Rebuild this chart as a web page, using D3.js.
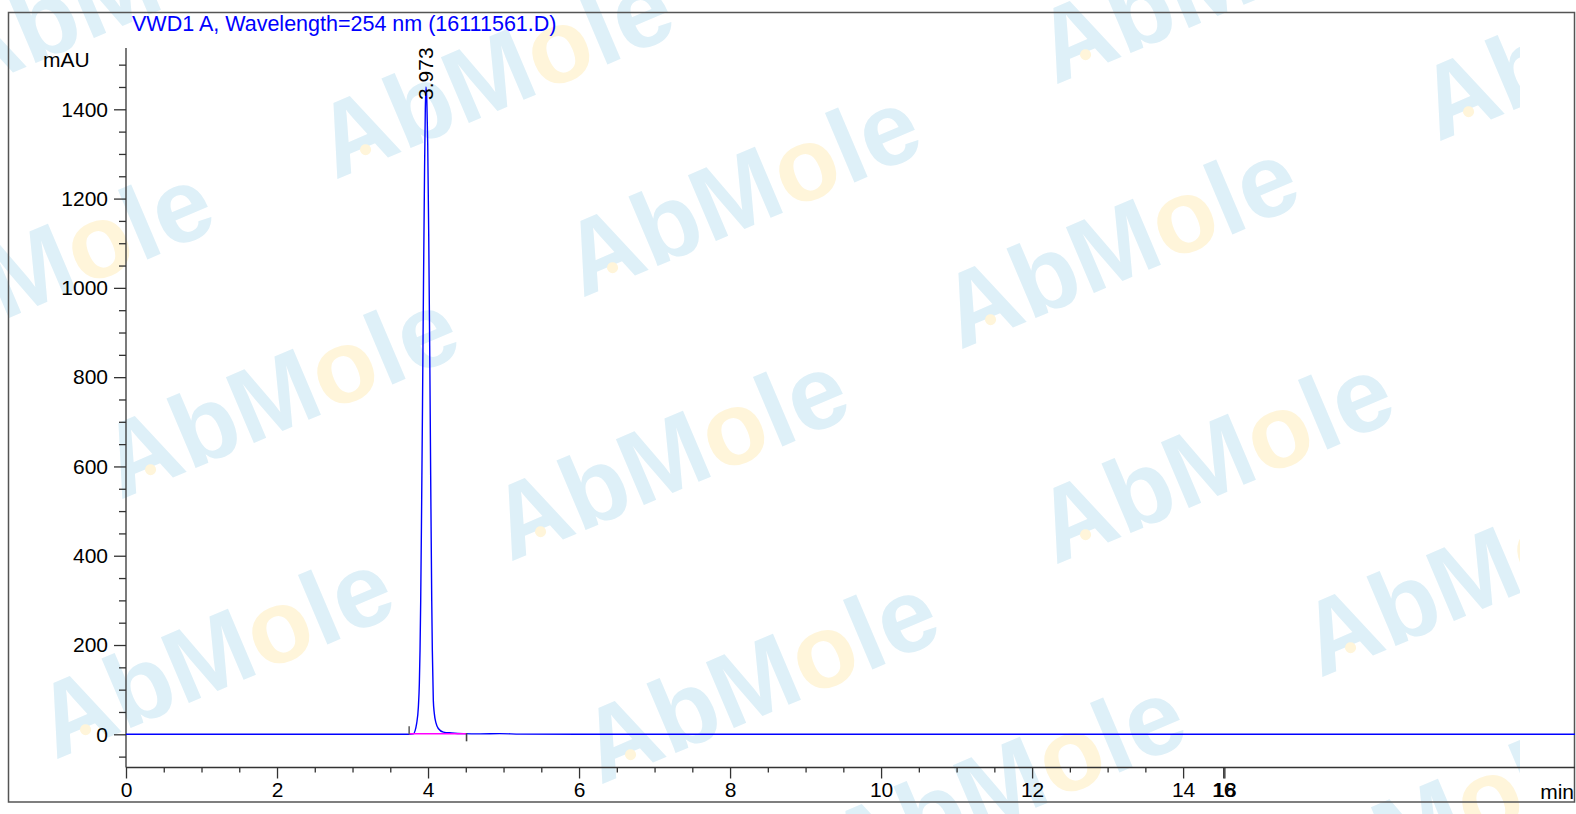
<!DOCTYPE html>
<html>
<head>
<meta charset="utf-8">
<script src="https://cdn.jsdelivr.net/npm/d3@7"></script>
<style>
  html, body { margin: 0; padding: 0; background: #fff; }
  svg { display: block; }
  text { font-family: "Liberation Sans", Arial, sans-serif; }
</style>
</head>
<body>
<svg id="chart" width="1576" height="814"></svg>
<script>
// ---------------- data ----------------
const chartTitle = "VWD1 A, Wavelength=254 nm (16111561.D)";
const yUnit = "mAU";
const xUnit = "min";

// chromatogram trace (time in min, signal in mAU)
const traceTime = [0, 1.0, 2.0, 3.0, 3.75, 3.805, 3.850, 3.872, 3.885, 3.894, 3.903, 3.915, 3.927, 3.940, 3.954, 3.964, 3.973,
  3.984, 3.996, 4.009, 4.022, 4.035, 4.049, 4.057, 4.070, 4.083, 4.106, 4.136, 4.203, 4.314, 4.467, 4.69, 4.95, 5.22, 6.0, 8.0, 10.0, 12.0, 14.0, 16.0, 18.0, 19.2];
const traceMAU = [0, 0, 0, 0, 0, 1, 25, 61, 114, 188, 300, 510, 740, 1010, 1265, 1400, 1450,
  1420, 1320, 1120, 870, 580, 300, 188, 76, 47, 25, 13, 5, 3, 1.5, 1, 1.5, 0.5, 0, 0, 0, 0, 0, 0, 0, 0];

// integrated peak
const peakRT = 3.973;
const peakHeight = 1450;
const peakLabel = "3.973";
const peakStart = 3.75;
const peakEnd = 4.51;

// axes
const xMajorTicks = [0, 2, 4, 6, 8, 10, 12, 14, 16, 18];
const xMinorTicks = [0.5, 1, 1.5, 2.5, 3, 3.5, 4.5, 5, 5.5, 6.5, 7, 7.5, 8.5, 9, 9.5, 10.5, 11, 11.5, 12.5, 13, 13.5];
const yMajorTicks = [0, 200, 400, 600, 800, 1000, 1200, 1400];
const yMinorTicks = [-50, 50, 100, 150, 250, 300, 350, 450, 500, 550, 650, 700, 750, 850, 900, 950, 1050, 1100, 1150, 1250, 1300, 1350, 1450, 1500];

// ---------------- drawing ----------------
const svg = d3.select("#chart");
const W = 1576, H = 814;
const FS = 21;

// watermark (background decoration)
const wmOrigins = [[-40, 95], [335, 180], [582, 298], [960, 350], [1055, 85], [1438, 142], [-125, 375], [120, 500], [510, 562],
  [1055, 565], [55, 760], [600, 785], [1320, 678], [847, 888], [1265, 930], [130, 1015]];
svg.append("defs").append("clipPath").attr("id", "wmclip")
  .append("rect").attr("x", 0).attr("y", 0).attr("width", 1520).attr("height", H);
const wm = svg.append("g").attr("clip-path", "url(#wmclip)");
wmOrigins.forEach(([ox, oy]) => {
  const g = wm.append("g").attr("transform", `translate(${ox},${oy}) rotate(-23)`);
  const t = g.append("text")
    .attr("font-family", "DejaVu Serif")
    .attr("font-weight", "bold")
    .attr("font-size", 104)
    .attr("fill", "#def0f8");
  t.append("tspan").text("AbM");
  t.append("tspan").attr("fill", "#fff5da").text("o");
  t.append("tspan").text("le");
  g.append("circle").attr("cx", 40).attr("cy", -16).attr("r", 5.5).attr("fill", "#fff5da");
});

// frame
svg.append("rect").attr("x", 8.5).attr("y", 12.5).attr("width", 1566).attr("height", 789.5)
  .attr("fill", "none").attr("stroke", "#555").attr("stroke-width", 1.5);

// scales
const x = d3.scaleLinear().domain([0, 19.19]).range([126, 1575]);
const y = d3.scaleLinear().domain([0, 1400]).range([734.3, 109.3]);
// axis scale reproduces the compressed end of the original time axis (16 and 18 drawn together)
const xAxisScale = d3.scaleLinear().domain([0, 14.52, 18]).range([x(0), x(14.52), x(14.52) + 2]);

const axisY = 767.5;
const axisColor = "#333";

// x axis
const gx = svg.append("g").attr("transform", `translate(0,${axisY})`);
gx.call(d3.axisBottom(xAxisScale).tickValues(xMinorTicks).tickSize(5).tickFormat(""));
const gx2 = svg.append("g").attr("transform", `translate(0,${axisY})`);
gx2.call(d3.axisBottom(xAxisScale).tickValues(xMajorTicks).tickSize(11).tickPadding(4).tickFormat(d3.format("d")));
[gx, gx2].forEach(g => {
  g.select(".domain").remove();
  g.selectAll("line").attr("stroke", axisColor).attr("stroke-width", 1.3);
  g.selectAll("text").attr("font-size", FS).attr("fill", "#000").attr("font-family", "Liberation Sans, Arial, sans-serif");
});
svg.append("line").attr("x1", x(0)).attr("x2", 1575).attr("y1", axisY).attr("y2", axisY)
  .attr("stroke", axisColor).attr("stroke-width", 1.3);

// y axis
const gy = svg.append("g").attr("transform", `translate(${x(0)},0)`);
gy.call(d3.axisLeft(y).tickValues(yMinorTicks).tickSize(7).tickFormat(""));
const gy2 = svg.append("g").attr("transform", `translate(${x(0)},0)`);
gy2.call(d3.axisLeft(y).tickValues(yMajorTicks).tickSize(12).tickPadding(6).tickFormat(d3.format("d")));
[gy, gy2].forEach(g => {
  g.select(".domain").remove();
  g.selectAll("line").attr("stroke", axisColor).attr("stroke-width", 1.3);
  g.selectAll("text").attr("font-size", FS).attr("fill", "#000").attr("font-family", "Liberation Sans, Arial, sans-serif");
});
svg.append("line").attr("x1", x(0)).attr("x2", x(0)).attr("y1", 48).attr("y2", axisY)
  .attr("stroke", axisColor).attr("stroke-width", 1.3);

// unit labels and title
svg.append("text").attr("x", 43).attr("y", 67).attr("font-size", FS).attr("fill", "#000").text(yUnit);
svg.append("text").attr("x", 1574).attr("y", 799).attr("text-anchor", "end").attr("font-size", FS).attr("fill", "#000").text(xUnit);
svg.append("text").attr("x", 132).attr("y", 31).attr("font-size", 21.5).attr("fill", "#0000ff").text(chartTitle);

// trace
const traceData = traceTime.map((t, i) => ({ t, v: traceMAU[i] }));
svg.append("clipPath").attr("id", "plotclip").append("rect")
  .attr("x", x(0)).attr("y", 13).attr("width", 1575 - x(0)).attr("height", axisY - 13);
svg.append("path")
  .datum(traceData)
  .attr("clip-path", "url(#plotclip)")
  .attr("fill", "none")
  .attr("stroke", "#0000ff")
  .attr("stroke-width", 1.4)
  .attr("d", d3.line().x(d => x(d.t)).y(d => y(d.v)).curve(d3.curveMonotoneX));

// integration baseline and markers
svg.append("line").attr("x1", x(peakStart)).attr("x2", x(peakEnd)).attr("y1", y(0) - 0.5).attr("y2", y(0) - 0.5)
  .attr("stroke", "#ff00ff").attr("stroke-width", 1.4);
svg.append("line").attr("x1", x(peakStart)).attr("x2", x(peakStart)).attr("y1", y(0) - 8).attr("y2", y(0))
  .attr("stroke", "#666").attr("stroke-width", 1.6);
svg.append("line").attr("x1", x(peakEnd)).attr("x2", x(peakEnd)).attr("y1", y(0) - 1).attr("y2", y(0) + 7)
  .attr("stroke", "#444").attr("stroke-width", 1.6);

// peak label
svg.append("text")
  .attr("transform", `translate(${x(peakRT)},${y(peakHeight) + 13}) rotate(-90)`)
  .attr("dy", "0.35em")
  .attr("font-size", FS)
  .attr("fill", "#000")
  .text(peakLabel);
</script>
</body>
</html>
